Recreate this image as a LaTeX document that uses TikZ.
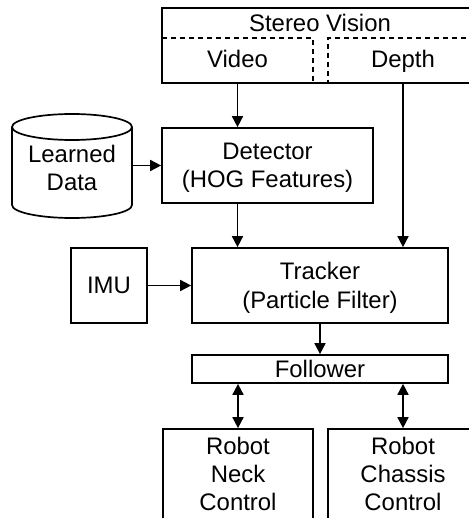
\documentclass[tikz,border=0pt]{standalone}
\usepackage{fontspec}
\setmainfont{Liberation Sans}
\usetikzlibrary{arrows.meta,calc}
\tikzset{
  box/.style={draw, line width=1.7bp, inner sep=0pt, align=center},
  sub/.style={draw, line width=1.3bp, dash pattern=on 5bp off 4bp, inner sep=0pt},
  lbl/.style={inner sep=0pt, align=center},
  tip/.tip={Triangle[length=11bp,width=11bp]},
  arr/.style={line width=1.7bp, -tip},
  darr/.style={line width=1.7bp, tip-tip},
}
\begin{document}
\begin{tikzpicture}[x=1bp, y=-1bp, font=\fontsize{24}{28.5}\selectfont]
\useasboundingbox (0,0) rectangle (469,518);
\clip (0,0) rectangle (469,518);

% stereo camera block with its two output channels
\node[sub, minimum width=151bp, minimum height=45bp] (video) at (237.5,60.5) {};
\node[sub, minimum width=150bp, minimum height=45bp] (depth) at (403,60.5) {};
\node[lbl, anchor=base] (videotext) at (237.5,68) {Video};
\node[lbl, anchor=base] (depthtext) at (403,68) {Depth};
\node[box, minimum width=316bp, minimum height=75bp] (stereo) at (320,45.5) {};
\node[lbl] (stereotitle) at (320,23) {Stereo Vision};

% learned model store (cylinder)
\draw[line width=1.7bp] (72,127) ellipse [x radius=60bp, y radius=13bp];
\draw[line width=1.7bp] (12,127) -- (12,205)
  .. controls (12,212.18) and (38.86,218) .. (72,218)
  .. controls (105.14,218) and (132,212.18) .. (132,205) -- (132,127);
\node[lbl, minimum width=120bp] (learned) at (72,168) {Learned\\Data};

% processing blocks
\node[box, minimum width=211bp, minimum height=75bp] (detector) at (267.5,165.5) {};
\node[lbl] (dettext) at (267.5,168) {Detector\\(HOG Features)};
\node[box, minimum width=76bp, minimum height=75bp] (imu) at (109,285.5) {IMU};
\node[box, minimum width=256bp, minimum height=75bp] (tracker) at (320,285.5) {};
\node[lbl] (tracktext) at (320,288) {Tracker\\(Particle Filter)};
\node[box, minimum width=256bp, minimum height=28bp] (follower) at (320,369) {Follower};
\node[box, minimum width=150bp, minimum height=130bp] (neck) at (238,494) {};
\node[box, minimum width=150bp, minimum height=130bp] (chassis) at (403,494) {};
\node[lbl] (necktext) at (238,474) {Robot\\Neck\\Control};
\node[lbl] (chassistext) at (403,474) {Robot\\Chassis\\Control};

% data flow
\draw[arr] (video.south) -- (video.south |- detector.north);
\draw[arr] (depth.south) -- (depth.south |- tracker.north);
\draw[arr] (detector.west -| learned.east) -- (detector.west);
\draw[arr] (video.south |- detector.south) -- (video.south |- tracker.north);
\draw[arr] (imu.east) -- (tracker.west);
\draw[arr] (tracker.south) -- (follower.north);
\draw[darr] (follower.south -| neck.north) -- (neck.north);
\draw[darr] (follower.south -| chassis.north) -- (chassis.north);
\end{tikzpicture}
\end{document}
